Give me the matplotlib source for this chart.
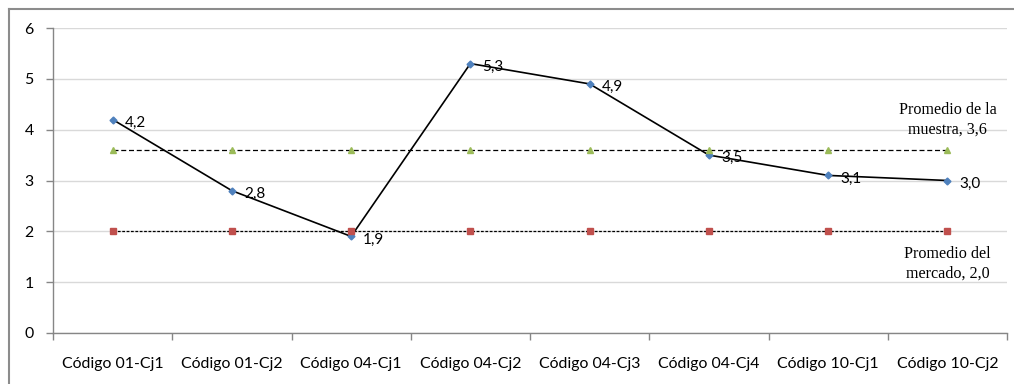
import matplotlib.pyplot as plt
from matplotlib.lines import Line2D

# Valores por categoría
categorias = ['Código 01-Cj1', 'Código 01-Cj2', 'Código 04-Cj1', 'Código 04-Cj2',
              'Código 04-Cj3', 'Código 04-Cj4', 'Código 10-Cj1', 'Código 10-Cj2']
valores = [4.2, 2.8, 1.9, 5.3, 4.9, 3.5, 3.1, 3.0]
promedio_muestra = [3.6] * 8
promedio_mercado = [2.0] * 8
etiqueta_muestra = 'Promedio de la\nmuestra, 3,6'
etiqueta_mercado = 'Promedio del\nmercado, 2,0'

FUENTE = 'Lato'
SERIF = 'Liberation Serif'
GRIS = '#868686'

fig = plt.figure(figsize=(10.14, 3.84), dpi=100)
ax = fig.add_axes([53 / 1014, 1 - 333 / 384, 954 / 1014, 305 / 384])

x = list(range(len(categorias)))

ax.plot(x, valores, color='black', lw=1.2, marker='D', ms=3.5,
        mfc='#4F81BD', mec='#4F81BD', zorder=3)
ax.plot(x, promedio_mercado, color='black', lw=0.9, ls=(0, (2.2, 1.3)),
        marker='s', ms=4.5, mfc='#C0504D', mec='#C0504D', zorder=4)
ax.plot(x, promedio_muestra, color='black', lw=0.9, ls=(0, (4, 2.2)),
        marker='^', ms=5, mfc='#9BBB59', mec='#9BBB59', zorder=4)

# Etiquetas de datos a la derecha de cada punto
for xi, v in zip(x, valores):
    ax.annotate(f'{v:.1f}'.replace('.', ','), (xi, v), xytext=(12, -3),
                textcoords='offset pixels', ha='left', va='center',
                fontsize=11, family=FUENTE, zorder=5)

ax.text(7.0, 4.2, etiqueta_muestra, ha='center', va='center', fontsize=11.6,
        family=SERIF, linespacing=1.3)
ax.text(7.0, 1.37, etiqueta_mercado, ha='center', va='center', fontsize=11.6,
        family=SERIF, linespacing=1.3)

ax.set_xlim(-0.5, 7.5)
ax.set_ylim(0, 6)
ax.set_yticks(range(7))
ax.set_xticks(x)
ax.set_xticklabels(categorias, family=FUENTE, fontsize=11.4)
ax.set_xticks([i - 0.5 for i in range(9)], minor=True)
ax.tick_params(axis='x', which='major', length=0, pad=17)
ax.tick_params(axis='x', which='minor', length=5, color=GRIS, width=1)
ax.tick_params(axis='y', length=5, color=GRIS, width=1, pad=9)
for lab in ax.get_yticklabels():
    lab.set_family(FUENTE)
    lab.set_fontsize(11.4)

ax.grid(axis='y', color='#D9D9D9', lw=1)
ax.set_axisbelow(True)
for s in ['top', 'right']:
    ax.spines[s].set_visible(False)
for s in ['left', 'bottom']:
    ax.spines[s].set_color(GRIS)
    ax.spines[s].set_linewidth(1)

# Borde exterior del gráfico
fig.add_artist(Line2D([9 / 1014, 9 / 1014], [0, 1 - 9 / 384], color='#8C8C8C', lw=1.5))
fig.add_artist(Line2D([9 / 1014, 1], [1 - 9 / 384, 1 - 9 / 384], color='#8C8C8C', lw=1.5))

fig.savefig('out.png', dpi=100)
